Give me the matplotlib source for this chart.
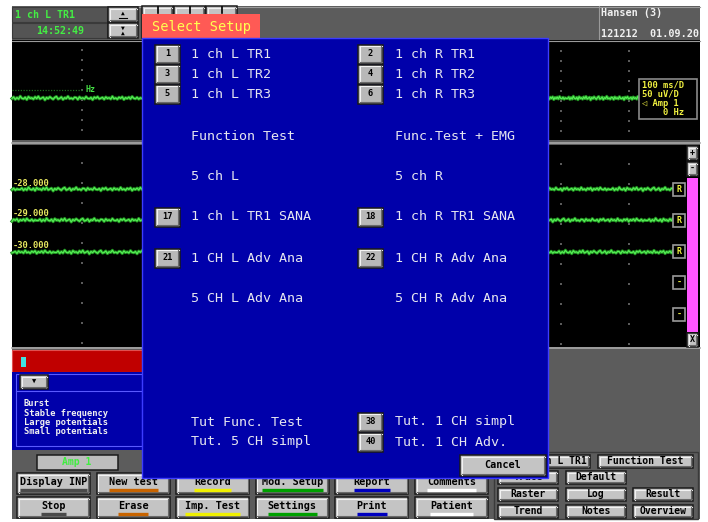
import numpy as np
import matplotlib
matplotlib.use("Agg")
import matplotlib.pyplot as plt
from matplotlib.patches import Rectangle

# ------------------- Data -------------------
left_codes = ["1", "3", "5", None, None, "17", "21", None, None, None]
left_items = ["1 ch L TR1", "1 ch L TR2", "1 ch L TR3", "Function Test", "5 ch L",
              "1 ch L TR1 SANA", "1 CH L Adv Ana", "5 CH L Adv Ana",
              "Tut Func. Test", "Tut. 5 CH simpl"]
right_codes = ["2", "4", "6", None, None, "18", "22", None, "38", "40"]
right_items = ["1 ch R TR1", "1 ch R TR2", "1 ch R TR3", "Func.Test + EMG", "5 ch R",
               "1 ch R TR1 SANA", "1 CH R Adv Ana", "5 CH R Adv Ana",
               "Tut. 1 CH simpl", "Tut. 1 CH Adv."]
row_y = [54, 74, 94, 136, 177, 217, 258, 299, 422, 442]

bottom_row1 = ["Display INP", "New test", "Record", "Mod. Setup", "Report", "Comments"]
bottom_row2 = ["Stop", "Erase", "Imp. Test", "Settings", "Print", "Patient"]
underline_cols = ["#4a4a4a", "#c86400", "#f0f000", "#00a000", "#0000c0", "#ffffff"]

right_col1 = ["Trace", "Raster", "Trend"]
right_col2 = ["Default", "Log", "Notes"]
right_col3 = [None, "Result", "Overview"]

trace_labels = ["-28.000", "-29.000", "-30.000"]
trace_y = [189, 220, 252]
info_lines = ["100 ms/D", "50 uV/D", "\u25c1 Amp 1", "    0 Hz"]
marker_list = ["Burst", "Stable frequency", "Large potentials", "Small potentials"]
side_boxes = ["R", "R", "R", "-", "-"]

noise = [0.5, -1.0, 1.4, -0.4, 1.1, -1.8, 0.3, 0.9, -0.7, 1.7, -1.3, 0.4, -0.2, 1.2, -1.1, 0.6,
         -1.6, 1.0, 0.1, -0.8, 2.0, -0.5, 0.7, -1.2, 0.2, 1.3, -0.6, -1.5, 1.1, 0.4, -1.0, 1.6,
         -0.3, 0.5, -1.7, 0.8, 0.0, 1.2, -0.7, -0.4, 1.5, -1.1, 0.6, -0.2, 1.0, -1.4, 0.4, 0.7,
         -0.5, 1.8, -0.9, 0.3, -1.3, 0.9, 0.2, -0.6, 1.4, -1.0, 0.5, -0.3, 1.1, -1.6, 0.8, -0.1,
         1.3, -0.8, 0.4, -1.2, 1.6, -0.4, 0.6, -0.9, 1.0, -1.5, 0.3, 0.8, -0.7, 1.2, -0.2, 0.5]

MONO = "DejaVu Sans Mono"

fig = plt.figure(figsize=(7.08, 5.22), dpi=100)
ax = fig.add_axes([0, 0, 1, 1])
ax.set_xlim(0, 708)
ax.set_ylim(522, 0)
ax.axis("off")


# ------------------- Helpers -------------------
def rect(x, y, w, h, fc, ec="none", lw=0, z=1):
    ax.add_patch(Rectangle((x, y), w, h, facecolor=fc, edgecolor=ec, linewidth=lw, zorder=z))


def txt(x, y, s, color="black", fs=7, ha="left", bold=False, z=5, family=MONO):
    ax.text(x, y, s, color=color, fontsize=fs, ha=ha, va="center", family=family,
            fontweight="bold" if bold else "normal", zorder=z)


def button(x, y, w, h, label=None, fs=7, face="#c4c4c4", border="#1a1a1a", color="black",
           ul=None, z=3, bold=True, ha="center"):
    rect(x, y, w, h, face, border, 1.1, z)
    ax.plot([x + 1.5, x + w - 1.5], [y + 1.6, y + 1.6], color="#f2f2f2", lw=0.8, zorder=z + 0.1)
    ax.plot([x + 1.6, x + 1.6], [y + 1.5, y + h - 1.5], color="#f2f2f2", lw=0.8, zorder=z + 0.1)
    ax.plot([x + 1.5, x + w - 1.5], [y + h - 1.6, y + h - 1.6], color="#6a6a6a", lw=0.8, zorder=z + 0.1)
    ax.plot([x + w - 1.6, x + w - 1.6], [y + 1.5, y + h - 1.5], color="#6a6a6a", lw=0.8, zorder=z + 0.1)
    if label:
        ty = y + h * 0.46 if ul is None else y + h * 0.42
        tx = x + w / 2 if ha == "center" else x + w - 3
        txt(tx, ty, label, color=color, fs=fs, ha=ha, bold=bold, z=z + 0.2)
        if ul is not None:
            half = len(label) * 6.1 / 2
            ax.plot([x + w / 2 - half, x + w / 2 + half], [y + h - 4.5, y + h - 4.5],
                    color=ul, lw=2.4, solid_capstyle="butt", zorder=z + 0.2)


def trace(x0, x1, yc, shift):
    vals = np.roll(noise, shift)
    xs = np.linspace(x0, x1, len(vals))
    ax.plot(xs, yc + vals, color="#1f8a1f", lw=2.2, zorder=2)
    ax.plot(xs, yc + vals, color="#55ee55", lw=0.9, zorder=2.1)


def dots(x, ys):
    ax.scatter([x] * len(ys), ys, s=1.2, color="#5a5a5a", marker="s", linewidths=0, zorder=1.5)


# ------------------- Screen background -------------------
rect(0, 0, 708, 522, "white", z=0)
rect(12, 6, 688, 513, "#5c5c5c", z=0.5)
ax.plot([12, 700], [6.5, 6.5], color="#9a9a9a", lw=0.8, zorder=0.6)

# top bar
rect(12, 7, 95, 15, "#545454", "#3a3a3a", 0.8, 1)
rect(12, 23, 95, 15, "#545454", "#3a3a3a", 0.8, 1)
txt(15, 14.5, "1 ch L TR1", color="#44ee44", fs=7.2, bold=True)
txt(60, 31, "14:52:49", color="#44ee44", fs=7.2, ha="center", bold=True)
button(108, 7, 30, 15)
button(108, 23, 30, 15)
txt(123, 13.5, "\u25b2", fs=4.5, ha="center", z=4)
ax.plot([119, 127], [17.5, 17.5], color="black", lw=0.8, zorder=4)
txt(123, 28, "\u25bc", fs=4.5, ha="center", z=4)
txt(123, 33, "\u25b2", fs=4.5, ha="center", z=4)
for bx in [142, 174, 206]:
    button(bx, 6, 31, 32)
    ax.plot([bx + 16, bx + 16], [7, 13], color="black", lw=1.2, zorder=4)
ax.plot([598.5, 598.5], [6, 40], color="#9a9a9a", lw=0.8, zorder=1)
txt(601, 12.5, "Hansen (3)", color="#f0f0f0", fs=7.3, bold=True)
txt(601, 34, "121212  01.09.20", color="#f0f0f0", fs=7.3, bold=True)

# trace panels
for (x0, x1) in [(12, 142), (548, 700)]:
    rect(x0, 40, x1 - x0, 100, "black", z=1)
    rect(x0, 145, x1 - x0, 202, "black", z=1)
ax.plot([12, 700], [40.5, 40.5], color="#9a9a9a", lw=0.8, zorder=1.2)
ax.plot([12, 700], [142.5, 142.5], color="#a8a8a8", lw=1.2, zorder=1.2)
ax.plot([12, 700], [348, 348], color="#a8a8a8", lw=1.2, zorder=1.2)

dots(82, list(range(50, 140, 10)))
dots(82, list(range(163, 345, 20)))
for gx in [561, 629]:
    dots(gx, list(range(51, 140, 10)))
    dots(gx, list(range(164, 345, 20)))

# top panel traces
ax.plot([12, 83], [90, 90], color="#1f6a1f", lw=0.9, ls=(0, (1, 1.2)), zorder=1.6)
txt(86, 89.5, "Hz", color="#44dd44", fs=6, bold=True)
trace(12, 142, 98, 0)
trace(548, 639, 98, 17)

# info box
rect(639, 79, 58, 40, "black", "#8a8a8a", 1.2, 3)
for i, s in enumerate(info_lines):
    txt(642, 85 + i * 9.3, s, color="#f0f040", fs=6.3, bold=True, z=4)

# second panel traces
for i, (lab, yc) in enumerate(zip(trace_labels, trace_y)):
    trace(12, 142, yc, 11 * i + 5)
    trace(548, 673, yc, 23 * i + 40)
    txt(13, yc - 6, lab, color="#e8e860", fs=6.3, bold=True, z=4)

# right side controls
button(687, 146, 11, 14, "+", fs=6)
button(687, 162, 11, 14, "-", fs=6)
rect(687, 178, 11, 154, "#ff55ff", z=2)
button(687, 333, 11, 14, "X", fs=6)
for s, by in zip(side_boxes, [183, 214, 245, 276, 308]):
    rect(673, by, 12, 13, "black", "#9a9a9a", 1.2, 3)
    txt(679, by + 6.5, s, color="#f0f040", fs=6, ha="center", bold=True, z=4)

# lower-left marker panel
rect(12, 350, 130, 22, "#c00000", "#e05050", 0.8, 1)
rect(21, 357, 5, 10, "#40e0e0", z=2)
rect(12, 372, 130, 78, "#0000aa", z=1)
rect(16, 374, 126, 72, "none", "#5a5aff", 0.8, 1.5)
ax.plot([16, 142], [391, 391], color="#5a5aff", lw=0.8, zorder=1.5)
button(20, 375, 28, 14, "\u25bc", fs=5)
for i, s in enumerate(marker_list):
    txt(24, 404 + i * 9.3, s, color="#f0f0f0", fs=6.3, bold=True, z=2)

# bottom buttons
rect(37, 455, 81, 15, "#bdbdbd", "#1a1a1a", 1.1, 2)
txt(77, 462, "Amp 1", color="#40ee40", fs=7, ha="center", bold=True, z=3)
for i, (a, b) in enumerate(zip(bottom_row1, bottom_row2)):
    bx = 17 + 79.6 * i
    button(bx, 473, 73, 21, a, fs=7.3, ul=underline_cols[i])
    button(bx, 497, 73, 21, b, fs=7.3, ul=underline_cols[i])

rect(494, 452, 204, 67, "none", "#3a3a3a", 1.0, 1.5)
button(498, 455, 92, 13, "1 ch L TR1", fs=7, ha="right")
button(598, 455, 95, 13, "Function Test", fs=7)
for col, cx in [(right_col1, 498), (right_col2, 566), (right_col3, 633)]:
    for lab, by in zip(col, [471, 488, 505]):
        if lab:
            button(cx, by, 60, 13, lab, fs=7)

# ------------------- Select Setup dialog -------------------
rect(142, 14, 118, 24, "#ff5a55", z=6)
txt(152, 26.5, "Select Setup", color="#ffff50", fs=9.8, z=7)
rect(142, 38, 406, 440, "#0000aa", "#3c3cff", 1.0, 6)

for codes, items, bx, tx in [(left_codes, left_items, 155, 191),
                             (right_codes, right_items, 358, 395)]:
    for code, item, yc in zip(codes, items, row_y):
        if code:
            button(bx, yc - 9.5, 25, 19, code, fs=6.2, face="#b8b8b8", z=7)
        txt(tx, yc, item, color="#e6e6f0", fs=9.6, z=8)

button(460, 455, 86, 21, "Cancel", fs=7.3, z=7)

fig.savefig("out.png", dpi=100)
